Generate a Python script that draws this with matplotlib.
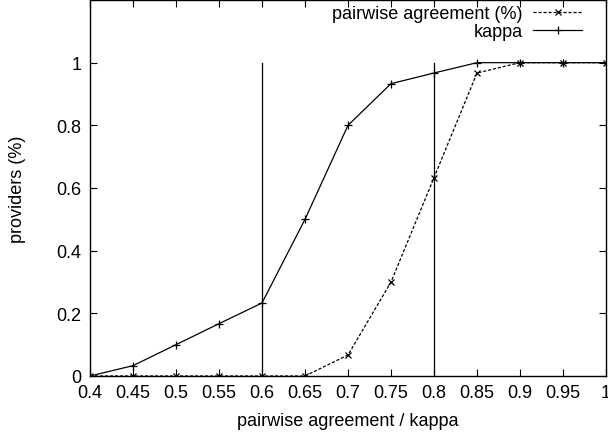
import matplotlib
matplotlib.use("Agg")
import matplotlib.pyplot as plt

plt.rcParams['font.family'] = ['Liberation Sans', 'DejaVu Sans']

x_vals = [0.4, 0.45, 0.5, 0.55, 0.6, 0.65, 0.7, 0.75, 0.8, 0.85, 0.9, 0.95, 1.0]
pairwise = [0, 0, 0, 0, 0, 0, 0.067, 0.3, 0.633, 0.967, 1, 1, 1]
kappa = [0, 0.033, 0.1, 0.167, 0.233, 0.5, 0.8, 0.933, 0.967, 1, 1, 1, 1]
vlines_x = [0.6, 0.8]
xticks = [0.4, 0.45, 0.5, 0.55, 0.6, 0.65, 0.7, 0.75, 0.8, 0.85, 0.9, 0.95, 1]
xtick_labels = ['0.4', '0.45', '0.5', '0.55', '0.6', '0.65', '0.7', '0.75', '0.8', '0.85', '0.9', '0.95', '1']
yticks = [0, 0.2, 0.4, 0.6, 0.8, 1]
ytick_labels = ['0', '0.2', '0.4', '0.6', '0.8', '1']

fig = plt.figure(figsize=(6.08, 4.35), dpi=100)
ax = fig.add_axes([90/608, 58/435, 516/608, 376/435])

ax.plot(x_vals, pairwise, color='black', linestyle=(0, (2.5, 1.5)), linewidth=0.9,
        marker='x', markersize=5, markeredgewidth=0.9, label='pairwise agreement (%)')
ax.plot(x_vals, kappa, color='black', linestyle='-', linewidth=0.9,
        marker='+', markersize=6, markeredgewidth=0.9, label='kappa')
for xv in vlines_x:
    ax.plot([xv, xv], [0, 1], color='black', linewidth=0.9)

ax.set_xlim(0.4, 1.0)
ax.set_ylim(0, 1.2)
ax.set_xticks(xticks)
ax.set_xticklabels(xtick_labels)
ax.set_yticks(yticks)
ax.set_yticklabels(ytick_labels)
ax.tick_params(direction='in', top=True, right=True, length=5, width=0.8, labelsize=13, pad=6)
for s in ax.spines.values():
    s.set_linewidth(1.0)
ax.set_xlabel('pairwise agreement / kappa', fontsize=13)
ax.xaxis.set_label_coords(0.5, -36/376, transform=ax.transAxes)
ax.set_ylabel('providers (%)', fontsize=13)
ax.yaxis.set_label_coords(-64/516, 0.5, transform=ax.transAxes)

leg = ax.legend(loc='upper right', bbox_to_anchor=(492/516, 371/376), frameon=False,
                markerfirst=False, fontsize=13, handlelength=2.7, handletextpad=0.6,
                labelspacing=0.05, borderaxespad=0, borderpad=0)
for t in leg.get_texts():
    t.set_ha('right')
leg._legend_box.align = 'right'

fig.savefig('out.png', dpi=100)
